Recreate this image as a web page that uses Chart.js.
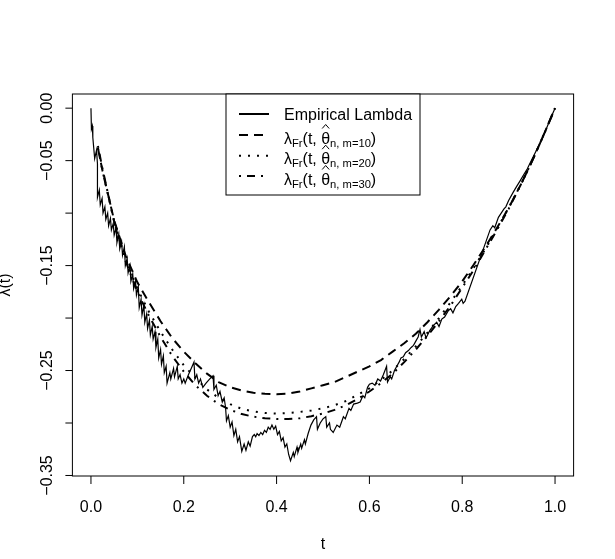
<!DOCTYPE html>
<html>
<head>
<meta charset="utf-8">
<script src="https://cdn.jsdelivr.net/npm/chart.js@4.4.1/dist/chart.umd.min.js"></script>
<style>
  html, body { margin: 0; padding: 0; background: #fff; }
  canvas { display: block; }
</style>
</head>
<body>
<canvas id="chart" width="615" height="559"></canvas>
<script>
// empirical lambda (sawtooth path)
const tEmp = [0.000, 0.001, 0.003, 0.004, 0.008, 0.012, 0.014, 0.014, 0.018, 0.020, 0.024, 0.026, 0.030, 0.032, 0.036, 0.038,
  0.042, 0.044, 0.048, 0.050, 0.054, 0.056, 0.060, 0.062, 0.066, 0.068, 0.072, 0.074, 0.078, 0.080, 0.084, 0.086,
  0.090, 0.092, 0.096, 0.098, 0.102, 0.104, 0.108, 0.110, 0.114, 0.116, 0.120, 0.122, 0.126, 0.128, 0.132, 0.134,
  0.138, 0.140, 0.144, 0.146, 0.150, 0.152, 0.156, 0.158, 0.162, 0.164, 0.170, 0.172, 0.178, 0.180, 0.186, 0.188,
  0.192, 0.196, 0.200, 0.203, 0.210, 0.216, 0.222, 0.224, 0.228, 0.232, 0.236, 0.241, 0.248, 0.256, 0.263, 0.265,
  0.270, 0.274, 0.278, 0.283, 0.287, 0.290, 0.292, 0.296, 0.300, 0.304, 0.308, 0.312, 0.316, 0.320, 0.325, 0.330,
  0.334, 0.339, 0.343, 0.348, 0.352, 0.355, 0.358, 0.362, 0.366, 0.370, 0.374, 0.378, 0.382, 0.386, 0.390, 0.394,
  0.398, 0.402, 0.406, 0.410, 0.414, 0.418, 0.422, 0.426, 0.430, 0.436, 0.438, 0.444, 0.446, 0.452, 0.454, 0.460,
  0.462, 0.468, 0.474, 0.480, 0.486, 0.488, 0.494, 0.500, 0.506, 0.508, 0.514, 0.516, 0.522, 0.530, 0.536, 0.544,
  0.548, 0.556, 0.560, 0.566, 0.574, 0.580, 0.586, 0.590, 0.596, 0.600, 0.606, 0.612, 0.618, 0.624, 0.630, 0.637,
  0.639, 0.645, 0.648, 0.654, 0.659, 0.664, 0.668, 0.673, 0.678, 0.684, 0.690, 0.695, 0.700, 0.705, 0.709, 0.712,
  0.718, 0.722, 0.730, 0.738, 0.745, 0.750, 0.756, 0.762, 0.770, 0.775, 0.780, 0.786, 0.792, 0.799, 0.802, 0.806,
  0.860, 0.866, 0.870, 0.878, 0.884, 0.890, 0.894, 0.900, 0.910, 0.918, 0.925, 0.933, 0.940, 0.950, 0.960, 0.970,
  0.980, 0.990, 1.000];
const lamEmp = [0.000, -0.020, -0.017, -0.028, -0.048, -0.040, -0.053, -0.085, -0.078, -0.092, -0.086, -0.100, -0.094, -0.106, -0.100, -0.112,
  -0.105, -0.116, -0.110, -0.121, -0.114, -0.128, -0.120, -0.134, -0.127, -0.140, -0.132, -0.150, -0.143, -0.157, -0.150, -0.165,
  -0.158, -0.172, -0.165, -0.178, -0.170, -0.190, -0.182, -0.197, -0.188, -0.204, -0.196, -0.210, -0.202, -0.216, -0.208, -0.220,
  -0.213, -0.228, -0.220, -0.238, -0.230, -0.244, -0.236, -0.252, -0.246, -0.262, -0.252, -0.258, -0.248, -0.256, -0.246, -0.258,
  -0.254, -0.262, -0.258, -0.262, -0.254, -0.248, -0.242, -0.258, -0.254, -0.262, -0.258, -0.266, -0.262, -0.258, -0.255, -0.268,
  -0.264, -0.274, -0.270, -0.280, -0.276, -0.285, -0.298, -0.293, -0.304, -0.299, -0.312, -0.306, -0.318, -0.313, -0.327, -0.320,
  -0.326, -0.318, -0.322, -0.313, -0.311, -0.313, -0.310, -0.312, -0.309, -0.311, -0.307, -0.309, -0.304, -0.306, -0.302, -0.306,
  -0.303, -0.311, -0.308, -0.317, -0.314, -0.323, -0.320, -0.330, -0.336, -0.328, -0.332, -0.323, -0.328, -0.320, -0.324, -0.316,
  -0.320, -0.310, -0.302, -0.297, -0.294, -0.306, -0.300, -0.296, -0.294, -0.304, -0.300, -0.306, -0.309, -0.302, -0.304, -0.294,
  -0.296, -0.286, -0.288, -0.282, -0.281, -0.280, -0.274, -0.276, -0.266, -0.263, -0.262, -0.264, -0.258, -0.260, -0.254, -0.246,
  -0.261, -0.256, -0.258, -0.250, -0.246, -0.242, -0.238, -0.237, -0.233, -0.231, -0.228, -0.226, -0.222, -0.218, -0.211, -0.218,
  -0.213, -0.219, -0.212, -0.207, -0.204, -0.208, -0.201, -0.199, -0.193, -0.191, -0.195, -0.189, -0.186, -0.182, -0.186, -0.184,
  -0.116, -0.112, -0.114, -0.104, -0.100, -0.096, -0.094, -0.088, -0.080, -0.074, -0.069, -0.063, -0.058, -0.049, -0.040, -0.031,
  -0.021, -0.010, 0.000];

// fitted curves lambda_Fr(t, theta_hat)
const tFit = [0.015, 0.025, 0.05, 0.075, 0.1, 0.125, 0.15, 0.175, 0.2, 0.225, 0.25, 0.275, 0.3, 0.325, 0.35, 0.375, 0.4,
  0.425, 0.45, 0.475, 0.5, 0.525, 0.55, 0.575, 0.6, 0.625, 0.65, 0.675, 0.7, 0.725, 0.75, 0.775, 0.8,
  0.825, 0.85, 0.875, 0.9, 0.925, 0.95, 0.975, 1.0];
const fitM10 = [-0.038, -0.060, -0.107, -0.141, -0.166, -0.185, -0.203, -0.219, -0.232, -0.243, -0.253, -0.261, -0.266, -0.269, -0.2712, -0.2722, -0.2725,
  -0.272, -0.270, -0.267, -0.264, -0.261, -0.256, -0.251, -0.246, -0.240, -0.232, -0.224, -0.215, -0.204, -0.192, -0.179, -0.165,
  -0.149, -0.132, -0.114, -0.095, -0.074, -0.051, -0.026, 0.000];
const fitM20 = [-0.038, -0.060, -0.108, -0.145, -0.172, -0.194, -0.213, -0.230, -0.245, -0.257, -0.268, -0.276, -0.282, -0.2865, -0.289, -0.2905, -0.291,
  -0.2905, -0.2895, -0.288, -0.286, -0.283, -0.279, -0.273, -0.267, -0.259, -0.250, -0.239, -0.227, -0.214, -0.200, -0.185, -0.169,
  -0.152, -0.134, -0.115, -0.095, -0.074, -0.051, -0.026, 0.000];
const fitM30 = [-0.036, -0.058, -0.108, -0.146, -0.175, -0.198, -0.218, -0.236, -0.251, -0.264, -0.274, -0.282, -0.2875, -0.2915, -0.294, -0.2955, -0.2962,
  -0.2962, -0.2955, -0.2935, -0.291, -0.2875, -0.283, -0.277, -0.270, -0.262, -0.253, -0.242, -0.230, -0.217, -0.203, -0.188, -0.171,
  -0.154, -0.135, -0.116, -0.096, -0.074, -0.051, -0.026, 0.000];

const xTicks = [0, 0.2, 0.4, 0.6, 0.8, 1.0];
const xTickLabels = ['0.0', '0.2', '0.4', '0.6', '0.8', '1.0'];
const yTicks = [0, -0.05, -0.10, -0.15, -0.20, -0.25, -0.30, -0.35];
const yTickLabels = ['0.00', '\u22120.05', '', '\u22120.15', '', '\u22120.25', '', '\u22120.35'];
const subLabels = ['n, m=10', 'n, m=20', 'n, m=30'];

const FONT = '"Liberation Sans", Arial, Helvetica, sans-serif';
const styles = [
  { dash: [], width: 1.2 },
  { dash: [9, 6], width: 2 },
  { dash: [2, 7], width: 2 },
  { dash: [2, 6, 8, 6], width: 2 }
];

const toPts = (xs, ys) => xs.map((x, i) => ({ x: x, y: ys[i] }));

// R-like box, axes and legend drawn on top of the chart area
const rFrame = {
  id: 'rFrame',
  afterDraw(chart) {
    const { ctx, chartArea: a, scales: { x, y } } = chart;
    ctx.save();
    ctx.strokeStyle = '#000';
    ctx.fillStyle = '#000';
    ctx.lineWidth = 1;
    ctx.setLineDash([]);
    ctx.strokeRect(a.left, a.top, a.right - a.left, a.bottom - a.top);

    ctx.font = '16px ' + FONT;
    // x axis
    ctx.textAlign = 'center';
    ctx.textBaseline = 'middle';
    xTicks.forEach((v, i) => {
      const px = x.getPixelForValue(v);
      ctx.beginPath();
      ctx.moveTo(px, a.bottom);
      ctx.lineTo(px, a.bottom + 8);
      ctx.stroke();
      ctx.fillText(xTickLabels[i], px, a.bottom + 32);
    });
    ctx.fillText('t', (a.left + a.right) / 2, a.bottom + 69);

    // y axis
    yTicks.forEach((v, i) => {
      const py = y.getPixelForValue(v);
      ctx.beginPath();
      ctx.moveTo(a.left, py);
      ctx.lineTo(a.left - 7, py);
      ctx.stroke();
      if (yTickLabels[i]) {
        ctx.save();
        ctx.translate(a.left - 20.5, py);
        ctx.rotate(-Math.PI / 2);
        ctx.textBaseline = 'alphabetic';
        ctx.fillText(yTickLabels[i], 0, 0);
        ctx.restore();
      }
    });
    ctx.save();
    ctx.translate(10, (a.top + a.bottom) / 2);
    ctx.rotate(-Math.PI / 2);
    ctx.textBaseline = 'alphabetic';
    ctx.fillText('\u03bb(t)', 0, 0);
    ctx.restore();

    // legend
    const lw = 194, lh = 101;
    const lx = (a.left + a.right) / 2 - lw / 2;
    const ly = a.top;
    ctx.fillStyle = '#fff';
    ctx.fillRect(lx, ly, lw, lh);
    ctx.strokeRect(lx, ly, lw, lh);
    ctx.fillStyle = '#000';
    const rows = [20, 41, 61.7, 82];
    rows.forEach((dy, i) => {
      const cy = ly + dy;
      ctx.save();
      ctx.lineWidth = 2;
      ctx.setLineDash(styles[i].dash);
      ctx.beginPath();
      ctx.moveTo(lx + 13, cy);
      ctx.lineTo(lx + 43, cy);
      ctx.stroke();
      ctx.restore();
      ctx.textAlign = 'left';
      ctx.textBaseline = 'alphabetic';
      let tx = lx + 58;
      if (i === 0) {
        ctx.font = '16px ' + FONT;
        ctx.fillText('Empirical Lambda', tx, cy + 6);
        return;
      }
      const base = cy + 8.5;
      const big = '16px ' + FONT, small = '11.2px ' + FONT;
      const put = (s, f, dy2) => {
        ctx.font = f;
        ctx.fillText(s, tx, base + dy2);
        tx += ctx.measureText(s).width;
      };
      put('\u03bb', big, 0);
      put('Fr', small, 3);
      put('(t, ', big, 0);
      ctx.font = big;
      const thW = ctx.measureText('\u03b8').width;
      const hc = tx + thW / 2;
      put('\u03b8', big, 0);
      ctx.beginPath();
      ctx.moveTo(hc - 3.5, base - 15);
      ctx.lineTo(hc, base - 19);
      ctx.lineTo(hc + 3.5, base - 15);
      ctx.stroke();
      put(subLabels[i - 1], small, 3);
      put(')', big, 0);
    });
    ctx.restore();
  }
};

const mkSet = (label, pts, st) => ({
  label: label,
  data: pts,
  showLine: true,
  borderColor: '#000',
  backgroundColor: '#000',
  borderWidth: st.width,
  borderDash: st.dash,
  pointRadius: 0,
  tension: 0,
  fill: false
});

new Chart(document.getElementById('chart'), {
  type: 'scatter',
  data: {
    datasets: [
      mkSet('Empirical Lambda', toPts(tEmp, lamEmp), styles[0]),
      mkSet('m=10', toPts(tFit, fitM10), styles[1]),
      mkSet('m=20', toPts(tFit, fitM20), styles[2]),
      mkSet('m=30', toPts(tFit, fitM30), styles[3])
    ]
  },
  options: {
    responsive: false,
    animation: false,
    layout: { padding: { left: 72.4, right: 41.4, top: 94, bottom: 83 } },
    scales: {
      x: { type: 'linear', min: -0.04, max: 1.04, display: false },
      y: { type: 'linear', min: -0.3505, max: 0.0135, display: false }
    },
    plugins: {
      legend: { display: false },
      tooltip: { enabled: false }
    }
  },
  plugins: [rFrame]
});
</script>
</body>
</html>
